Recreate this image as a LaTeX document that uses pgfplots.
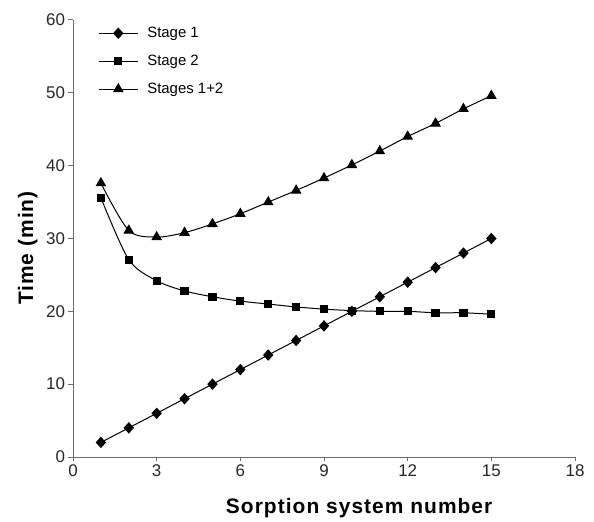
\documentclass[border=0pt]{standalone}
\usepackage{fontspec}
\setmainfont{Liberation Sans}
\newfontfamily\labelfont[LetterSpace=5]{Liberation Sans}
\usepackage{pgfplots}
\pgfplotsset{compat=1.18}

\begin{document}
\begin{tikzpicture}[x=1bp,y=1bp]
\path[use as bounding box] (-73,-65) rectangle (521,457);
\begin{axis}[
    at={(0,0)}, anchor=south west,
    scale only axis,
    width=502bp, height=437bp,
    xmin=0, xmax=18, ymin=0, ymax=60,
    xtick={0,3,...,18}, ytick={0,10,...,60},
    axis x line*=bottom, axis y line*=left,
    axis line style={draw=gray!85!black, line width=1pt, -},
    tick style={draw=gray!85!black, line width=1pt},
    tick align=outside, major tick length=4.5bp,
    /pgf/number format/assume math mode=true,
    ticklabel style={font=\fontsize{17}{19}\selectfont, text=black!85},
    xlabel={\labelfont\bfseries Sorption system number},
    ylabel={\labelfont\bfseries Time (min)},
    label style={font=\fontsize{21}{24}\selectfont},
    xlabel style={at={(axis description cs:0.57,-0.1304)}, anchor=base},
    ylabel style={at={(axis description cs:-0.09,0.478)}, anchor=center},
    legend style={draw=none, fill=none, inner sep=0pt, at={(axis cs:0.9,59.3)}, anchor=north west,
        font=\fontsize{15}{18}\selectfont, row sep=12bp, column sep=7bp},
    legend cell align=left,
    legend image code/.code={
        \draw[mark repeat=2,mark phase=2,#1] plot coordinates {(0bp,0bp) (19.5bp,0bp) (39bp,0bp)};
    },
]
\addplot[black, line width=1pt, mark=diamond*, mark size=5bp, mark options={solid, xscale=1.2}]
coordinates {(1,2) (2,4) (3,6) (4,8) (5,10) (6,12) (7,14) (8,16) (9,18) (10,20) (11,22) (12,24) (13,26) (14,28) (15,30)};
\addlegendentry{Stage 1}
\addplot[black, line width=1pt, smooth, tension=0.5, mark=square*, mark size=3.6bp, mark options={solid}]
coordinates {(1,35.6) (2,27.1) (3,24.2) (4,22.8) (5,22.0) (6,21.4) (7,21.0) (8,20.6) (9,20.3) (10,20.1) (11,20.0) (12,20.0) (13,19.8) (14,19.8) (15,19.6)};
\addlegendentry{Stage 2}
\addplot[black, line width=1pt, smooth, tension=0.5, mark=triangle*, mark size=5.2bp, mark options={solid}]
coordinates {(1,37.6) (2,31.1) (3,30.2) (4,30.8) (5,32.0) (6,33.4) (7,35.0) (8,36.6) (9,38.3) (10,40.1) (11,42.0) (12,44.0) (13,45.8) (14,47.8) (15,49.6)};
\addlegendentry{Stages 1+2}
\end{axis}
\end{tikzpicture}
\end{document}
